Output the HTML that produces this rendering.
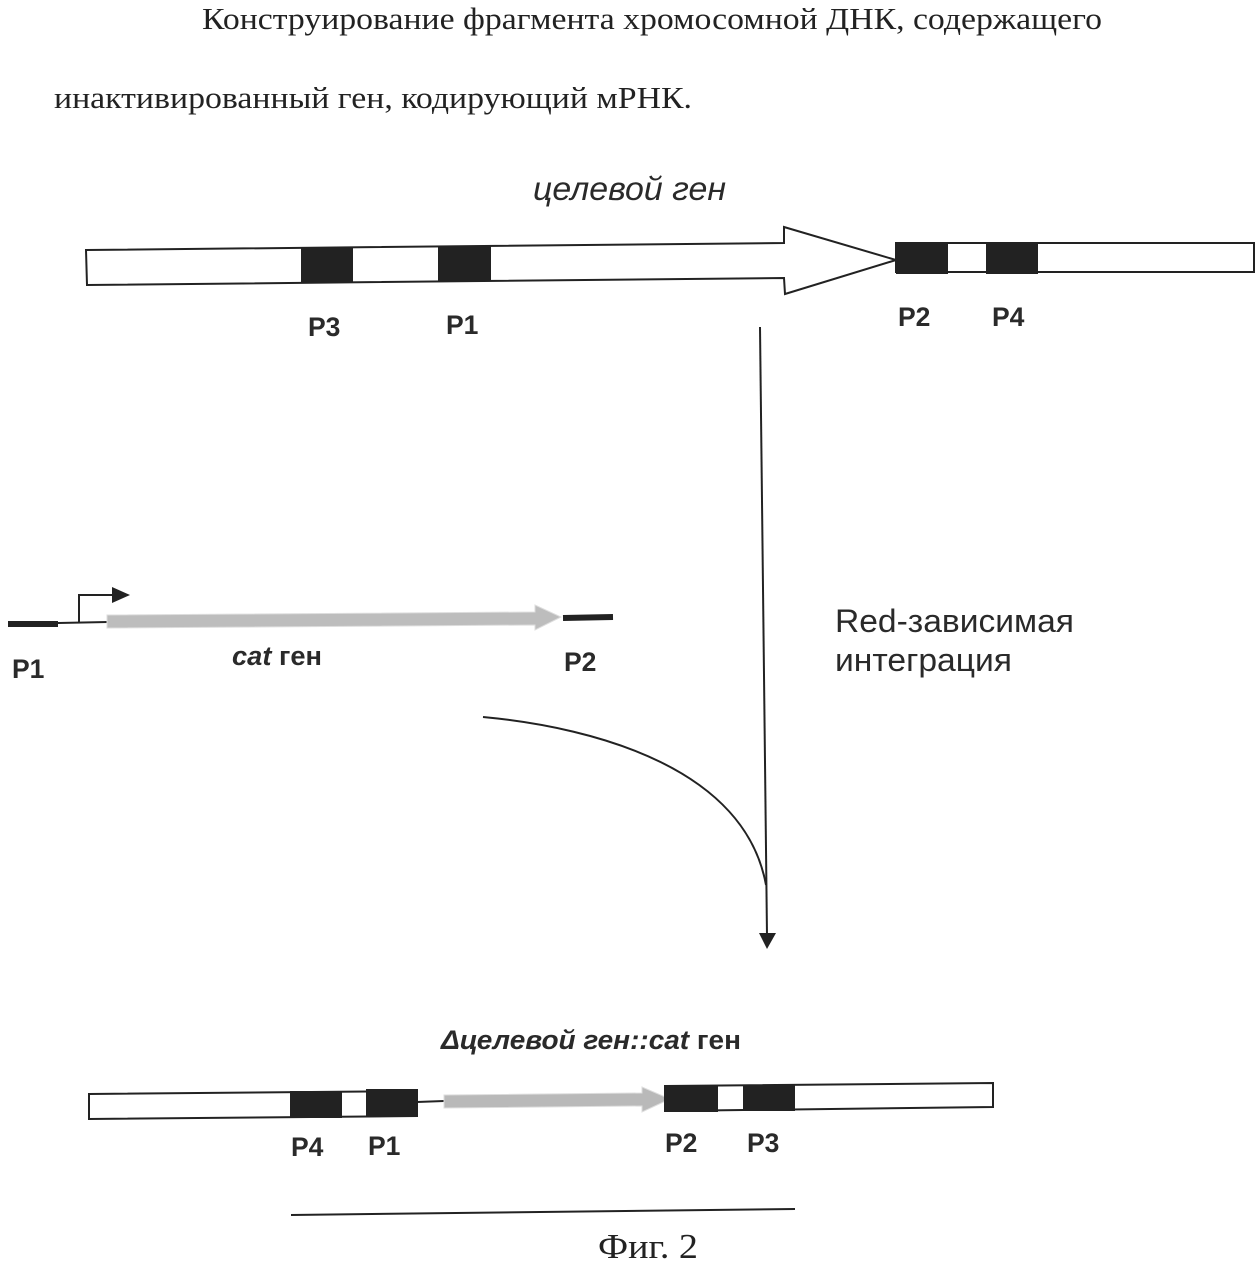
<!DOCTYPE html>
<html><head><meta charset="utf-8"><style>
html,body{margin:0;padding:0;background:#fff;width:1260px;height:1262px;overflow:hidden}
svg{display:block}
.s{font-family:"Liberation Sans",sans-serif;fill:#2a2a2a}
.b{font-weight:bold;font-size:26.5px}
.t{font-family:"Liberation Serif",serif;fill:#222}
</style></head><body>
<svg width="1260" height="1262" viewBox="0 0 1260 1262" xmlns="http://www.w3.org/2000/svg">
<rect width="1260" height="1262" fill="#fff"/>
<text class="t" x="202" y="29" font-size="30.5" textLength="900" lengthAdjust="spacingAndGlyphs">Конструирование фрагмента хромосомной ДНК, содержащего</text>
<text class="t" x="54" y="108" font-size="30.5" textLength="638" lengthAdjust="spacingAndGlyphs">инактивированный ген, кодирующий мРНК.</text>
<text class="s" x="533" y="200" font-size="33" font-style="italic" textLength="193" lengthAdjust="spacingAndGlyphs">целевой ген</text>

<polygon points="86,250 784,243 784,227 896,260 785,294 784,278 87,285" fill="#fff" stroke="#222" stroke-width="2"/>
<rect x="301" y="247" width="52" height="36" fill="#222"/>
<rect x="438" y="246" width="53" height="35" fill="#222"/>
<rect x="896" y="243" width="358" height="29" fill="#fff" stroke="#222" stroke-width="2"/>
<rect x="896" y="243" width="52" height="31" fill="#222"/>
<rect x="986" y="244" width="52" height="30" fill="#222"/>
<text class="s b" x="308" y="336">P3</text>
<text class="s b" x="446" y="334">P1</text>
<text class="s b" x="898" y="326">P2</text>
<text class="s b" x="992" y="326">P4</text>

<line x1="760" y1="327" x2="767" y2="936" stroke="#222" stroke-width="2"/>
<polygon points="759,933 776,933 767,949" fill="#222"/>
<path d="M483,717 C600,728 745,770 766,885" fill="none" stroke="#222" stroke-width="2"/>
<text class="s" x="835" y="632" font-size="32" textLength="239" lengthAdjust="spacingAndGlyphs">Red-зависимая</text>
<text class="s" x="835" y="671" font-size="32" textLength="177" lengthAdjust="spacingAndGlyphs">интеграция</text>

<line x1="8" y1="624" x2="58" y2="624" stroke="#222" stroke-width="6"/>
<line x1="58" y1="623" x2="108" y2="622" stroke="#222" stroke-width="2"/>
<path d="M79,622 V595 H115" fill="none" stroke="#222" stroke-width="2"/>
<polygon points="112,587 130,595 112,603" fill="#222"/>
<polygon points="107,615 535,612 535,605 561,617 535,630 535,625 107,628" fill="#bdbdbd" stroke="#ddd" stroke-width="1"/>
<line x1="563" y1="618" x2="613" y2="617" stroke="#222" stroke-width="6"/>
<text class="s b" x="12" y="678">P1</text>
<text class="s b" x="564" y="671">P2</text>
<text class="s" x="232" y="665" font-size="26.5" font-weight="bold" textLength="90" lengthAdjust="spacingAndGlyphs"><tspan font-style="italic">cat</tspan> ген</text>

<text class="s" x="441" y="1049" font-size="27" font-weight="bold" textLength="300" lengthAdjust="spacingAndGlyphs"><tspan font-style="italic">Δцелевой ген::cat</tspan> ген</text>
<polygon points="89,1094 417,1091 417,1116 89,1119" fill="#fff" stroke="#222" stroke-width="2"/>
<rect x="290" y="1091" width="52" height="27" fill="#222"/>
<rect x="366" y="1089" width="52" height="27" fill="#222"/>
<line x1="417" y1="1102" x2="444" y2="1101" stroke="#222" stroke-width="2"/>
<polygon points="444,1095 642,1093 642,1087 670,1099 642,1112 642,1106 444,1108" fill="#b9b9b9" stroke="#ddd" stroke-width="1"/>
<polygon points="665,1086 993,1083 993,1107 665,1111" fill="#fff" stroke="#222" stroke-width="2"/>
<rect x="665" y="1086" width="53" height="26" fill="#222"/>
<rect x="743" y="1085" width="52" height="26" fill="#222"/>
<text class="s b" x="291" y="1156">P4</text>
<text class="s b" x="368" y="1155">P1</text>
<text class="s b" x="665" y="1152">P2</text>
<text class="s b" x="747" y="1152">P3</text>

<line x1="291" y1="1215" x2="795" y2="1209" stroke="#222" stroke-width="2"/>
<text class="t" x="598" y="1258" font-size="35" textLength="100" lengthAdjust="spacingAndGlyphs">Фиг. 2</text>
</svg>
</body></html>
